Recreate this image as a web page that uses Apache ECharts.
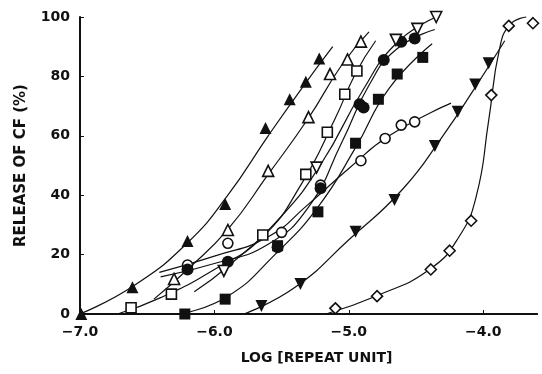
<!DOCTYPE html>
<html>
<head>
    <meta charset="utf-8">
    <title>Release of CF</title>
    <script src="https://cdn.jsdelivr.net/npm/echarts@6/dist/echarts.min.js"></script>
    <style>
        body { margin: 0; background: #fff; }
    </style>
</head>
<body>
<div id="chart" style="width: 542px; height: 374px;"></div>
<script>
    // tick values
    var xTicks = [-7, -6, -5, -4];
    var yTicks = [0, 20, 40, 60, 80, 100];

    // markers, [log repeat unit, release %]
    var triUpFilled = [[-6.99, 0], [-6.61, 9], [-6.20, 24.6], [-5.92, 37], [-5.62, 62.6], [-5.44, 72.3], [-5.32, 78.2], [-5.22, 86]];
    var triUpOpen = [[-6.30, 11.8], [-5.90, 28.3], [-5.60, 48.2], [-5.30, 66.3], [-5.14, 80.8], [-5.01, 85.7], [-4.91, 91.7]];
    var squareOpen = [[-6.62, 2.1], [-6.32, 6.7], [-5.64, 26.6], [-5.32, 47], [-5.16, 61.2], [-5.03, 74], [-4.94, 81.8]];
    var circleOpen = [[-6.20, 16.5], [-5.90, 23.8], [-5.50, 27.5], [-5.21, 43.4], [-4.91, 51.6], [-4.73, 59.1], [-4.61, 63.6], [-4.51, 64.7]];
    var circleFilled = [[-6.20, 15], [-5.90, 17.6], [-5.53, 22.5], [-5.21, 42.3], [-4.92, 70.6], [-4.89, 69.5], [-4.74, 85.5], [-4.61, 91.7], [-4.51, 92.8]];
    var squareFilled = [[-6.22, 0], [-5.92, 5], [-5.53, 23], [-5.23, 34.4], [-4.95, 57.5], [-4.78, 72.3], [-4.64, 80.8], [-4.45, 86.4]];
    var triDownFilled = [[-5.65, 2.7], [-5.36, 10.1], [-4.95, 27.7], [-4.66, 38.4], [-4.36, 56.6], [-4.19, 68.1], [-4.06, 77.3], [-3.96, 84.4]];
    var triDownOpen = [[-5.93, 14.5], [-5.24, 49.3], [-4.65, 92.3], [-4.49, 96], [-4.35, 100]];
    var diamondOpen = [[-5.10, 1.9], [-4.79, 6], [-4.39, 15], [-4.25, 21.3], [-4.09, 31.4], [-3.94, 73.7], [-3.81, 97], [-3.63, 97.9]];

    // fitted curves
    var triUpFilledCurve = [[-7.0, 0], [-6.6, 9.5], [-6.2, 24], [-5.9, 40], [-5.6, 60], [-5.35, 76], [-5.12, 90]];
    var triUpOpenCurve = [[-6.45, 5], [-6.2, 15], [-5.9, 28.5], [-5.6, 47], [-5.3, 66], [-5.05, 84], [-4.85, 95]];
    var squareOpenCurve = [[-6.72, 0], [-6.4, 5.5], [-6.0, 15], [-5.64, 26], [-5.35, 44], [-5.1, 66], [-4.95, 81], [-4.80, 92]];
    var circleOpenCurve = [[-6.41, 14], [-6.0, 19.5], [-5.6, 26], [-5.3, 37], [-5.0, 49], [-4.7, 60], [-4.24, 71]];
    var circleFilledCurve = [[-6.40, 12.5], [-6.0, 17], [-5.6, 23.5], [-5.3, 36], [-5.05, 58], [-4.85, 77], [-4.65, 89], [-4.36, 95.8]];
    var squareFilledCurve = [[-6.25, 0], [-5.9, 6], [-5.55, 20], [-5.23, 36], [-4.95, 56], [-4.7, 76], [-4.38, 91]];
    var triDownFilledCurve = [[-5.78, 0], [-5.4, 9], [-5.0, 25], [-4.6, 42], [-4.3, 60], [-4.05, 77], [-3.84, 92]];
    var triDownOpenCurve = [[-6.15, 7.5], [-5.9, 16], [-5.5, 33], [-5.2, 51], [-4.9, 75], [-4.65, 91], [-4.35, 100]];
    var diamondOpenCurve = [[-5.17, 0], [-4.8, 6], [-4.4, 15], [-4.18, 26], [-4.05, 40], [-3.96, 65], [-3.88, 89], [-3.80, 97.5], [-3.68, 100]];

    var chart = echarts.init(document.getElementById('chart'));

    var ink = '#111';
    var font = 'DejaVu Sans';

    function curve(data) {
        return {
            type: 'line', data: data, showSymbol: false, smooth: 0.5,
            clip: false, lineStyle: { color: ink, width: 1.2 }, z: 2, silent: true
        };
    }

    function marks(data, symbol, filled, size, rotate) {
        return {
            type: 'scatter', data: data, symbol: symbol, symbolSize: size, symbolRotate: rotate || 0,
            clip: false, z: 3,
            itemStyle: {
                color: filled ? ink : '#fff',
                borderColor: ink,
                borderWidth: filled ? 0 : 1.6,
                opacity: 1
            }
        };
    }

    var series = [
        curve(triUpFilledCurve), curve(triUpOpenCurve), curve(squareOpenCurve),
        curve(circleOpenCurve), curve(circleFilledCurve), curve(squareFilledCurve),
        curve(triDownFilledCurve), curve(triDownOpenCurve), curve(diamondOpenCurve),
        marks(triUpFilled, 'triangle', true, 12),
        marks(triUpOpen, 'triangle', false, 11),
        marks(squareOpen, 'rect', false, 10),
        marks(circleOpen, 'circle', false, 10),
        marks(circleFilled, 'circle', true, 12),
        marks(squareFilled, 'rect', true, 11),
        marks(triDownFilled, 'triangle', true, 12, 180),
        marks(triDownOpen, 'triangle', false, 11, 180),
        marks(diamondOpen, 'diamond', false, 11)
    ];

    chart.setOption({
        backgroundColor: '#fff',
        animation: false,
        grid: { left: 80, right: 5, top: 17, bottom: 60 },
        xAxis: [{
            type: 'value', min: -7, max: -3.6, interval: 1,
            name: 'LOG [REPEAT UNIT]', nameLocation: 'middle', nameGap: 37,
            nameTextStyle: { fontFamily: font, fontSize: 14, fontWeight: 'bold', color: ink, padding: [0, 0, 0, 16] },
            axisLine: { onZero: false, lineStyle: { color: ink, width: 2 } },
            axisTick: { inside: true, length: 4, lineStyle: { color: ink } },
            axisLabel: {
                margin: 11, fontFamily: font, fontSize: 14, fontWeight: 'bold', color: ink,
                showMaxLabel: false,
                formatter: function (v) {
                    if (xTicks.indexOf(v) < 0) return '';
                    return '\u2212' + Math.abs(v).toFixed(1);
                }
            },
            splitLine: { show: false }
        }, {
            type: 'value', position: 'top', min: -7, max: -3.6,
            axisLine: { show: true, lineStyle: { color: ink, width: 2 } },
            axisTick: { show: false }, axisLabel: { show: false }, splitLine: { show: false }
        }],
        yAxis: {
            type: 'value', min: 0, max: 100, interval: 20,
            name: 'RELEASE OF CF (%)', nameLocation: 'middle', nameGap: 51, nameRotate: 90,
            nameTextStyle: { fontFamily: font, fontSize: 15, fontWeight: 'bold', color: ink },
            axisLine: { show: true, lineStyle: { color: ink, width: 2 } },
            axisTick: { inside: true, length: 4, lineStyle: { color: ink } },
            axisLabel: {
                margin: 10, fontFamily: font, fontSize: 14, fontWeight: 'bold', color: ink,
                formatter: function (v) { return yTicks.indexOf(v) < 0 ? '' : String(v); }
            },
            splitLine: { show: false }
        },
        series: series
    });
</script>
</body>
</html>
